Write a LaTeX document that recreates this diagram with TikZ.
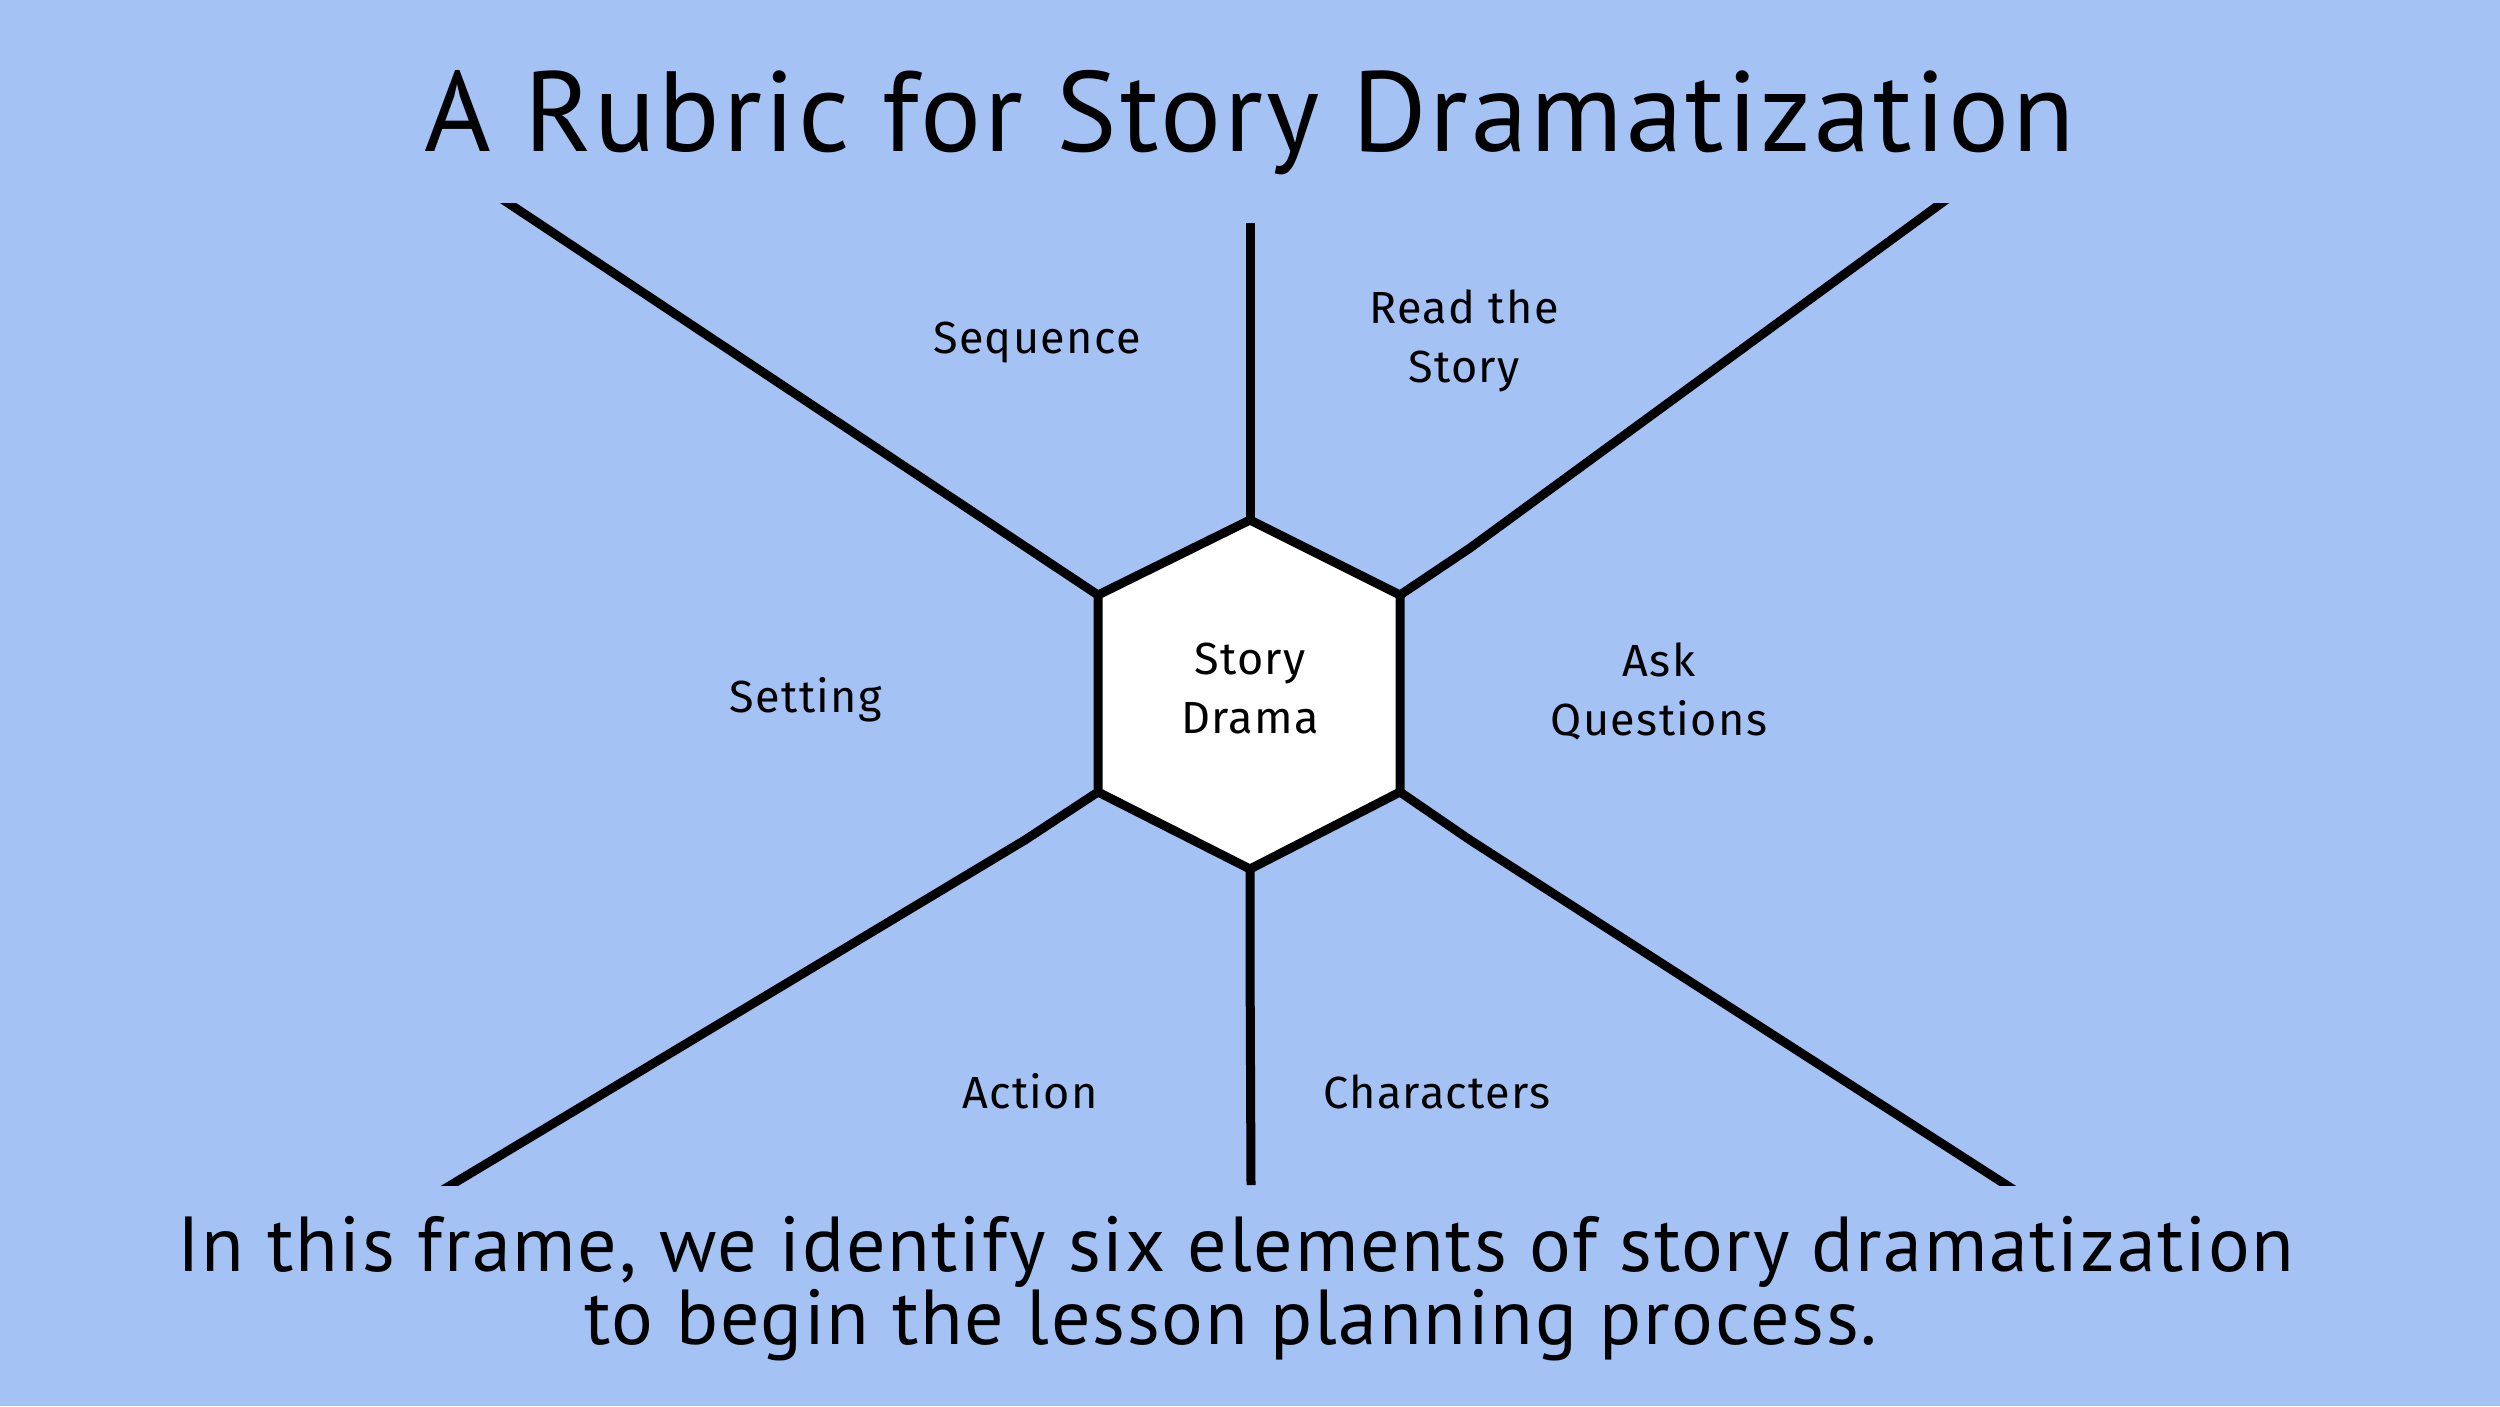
\documentclass[tikz,border=0pt]{standalone}
\usepackage{fontspec}
\setmainfont{PT Sans}
\newfontfamily\lblfont[LetterSpace=3]{Fira Sans}
\newfontfamily\ttlfont[LetterSpace=2.5]{PT Sans}
\newfontfamily\footfont[LetterSpace=2.2]{PT Sans}
\definecolor{bg}{HTML}{A4C2F4}
\begin{document}
\begin{tikzpicture}[x=1pt,y=-1pt,
  spoke/.style={line width=9pt,draw=black,line join=miter},
  hexa/.style={line width=9pt,draw=black,fill=white,line join=miter},
  lbl/.style={font=\lblfont\fontsize{45}{59}\selectfont,align=center,inner sep=0pt,anchor=base},
  ttl/.style={font=\ttlfont\fontsize{114}{130}\selectfont,inner sep=0pt,anchor=base},
  foot/.style={font=\footfont\fontsize{78}{73}\selectfont,inner sep=0pt,anchor=base}]
\fill[bg] (0,0) rectangle (2500,1406);
\useasboundingbox (0,0) rectangle (2500,1406);
% hexagon corners
\coordinate (hT) at (1250,520);
\coordinate (hUR) at (1400,595);
\coordinate (hLR) at (1400,792);
\coordinate (hB) at (1250,869);
\coordinate (hLL) at (1098,792);
\coordinate (hUL) at (1098,595);
% spoke bends and ends
\coordinate (urK) at (1470,548);
\coordinate (lrK) at (1470,840);
\coordinate (llK) at (1025,840);
\coordinate (bK) at (1250,952);
\coordinate (tE) at (1250,223);
\coordinate (ulE) at (490,191);
\coordinate (urE) at (1958,191);
\coordinate (llE) at (431,1197);
\coordinate (lrE) at (2025,1197);
\coordinate (bE) at (1251,1185);
\begin{scope}
\clip (0,203) rectangle (2500,1185);
\draw[spoke] (hUL) -- (ulE);
\draw[spoke] (hUR) -- (urK) -- (urE);
\draw[spoke] (hLL) -- (llK) -- (llE);
\draw[spoke] (hLR) -- (lrK) -- (lrE);
\end{scope}
\draw[spoke] (hT) -- (tE);
\draw[spoke] (hB) -- (bK) -- (bE);
\draw[hexa] (hT) -- (hUR) -- (hLR) -- (hB) -- (hLL) -- (hUL) -- cycle;
% labels
\node[lbl] (center) at (1250,733) {Story\\Drama};
\node[lbl] (seq) at (1037,353) {Sequence};
\node[lbl] (read) at (1464,382) {Read the\\Story};
\node[lbl] (setting) at (806,712) {Setting};
\node[lbl] (ask) at (1659,735) {Ask\\Questions};
\node[lbl] (action) at (1030,1108) {Action};
\node[lbl] (chars) at (1437,1108) {Characters};
% title and footer
\node[ttl] (title) at (1250,151) {A Rubric for Story Dramatization};
\node[foot] (foot1) at (1236,1271) {In this frame, we identify six elements of story dramatization};
\node[foot] (foot2) at (1231,1344) {to begin the lesson planning process.};
\end{tikzpicture}
\end{document}
